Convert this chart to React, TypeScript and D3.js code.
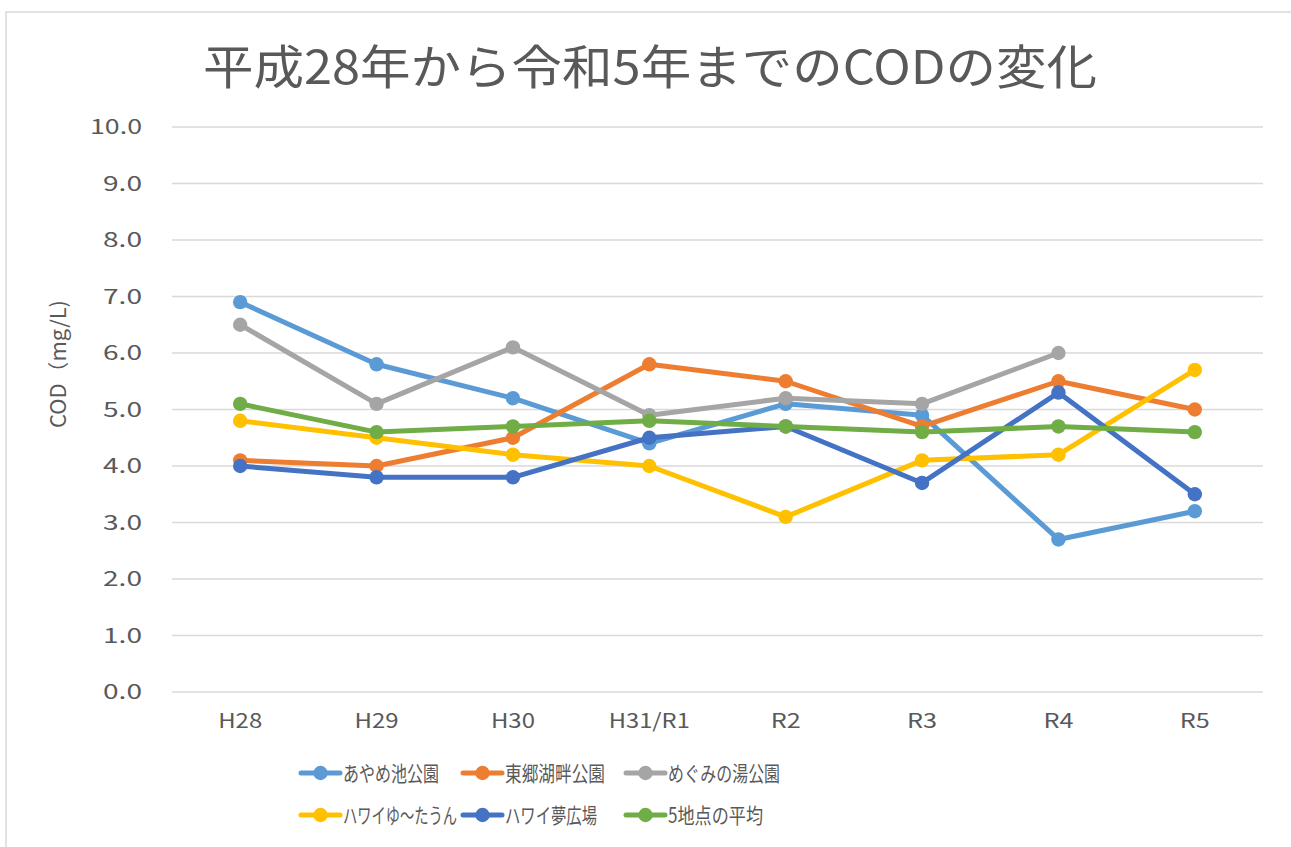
import React, { useEffect, useRef } from 'react';
import * as d3 from 'd3';

// categories (fiscal years)
const years = ['H28', 'H29', 'H30', 'H31/R1', 'R2', 'R3', 'R4', 'R5'];
const yTicks = [0, 1, 2, 3, 4, 5, 6, 7, 8, 9, 10];

// series values (mg/L)
const ayameIke = [6.9, 5.8, 5.2, 4.4, 5.1, 4.9, 2.7, 3.2];
const togoKohan = [4.1, 4.0, 4.5, 5.8, 5.5, 4.7, 5.5, 5.0];
const megumiNoYu = [6.5, 5.1, 6.1, 4.9, 5.2, 5.1, 6.0, null];
const hawaiYuTown = [4.8, 4.5, 4.2, 4.0, 3.1, 4.1, 4.2, 5.7];
const hawaiYumeHiroba = [4.0, 3.8, 3.8, 4.5, 4.7, 3.7, 5.3, 3.5];
const average5 = [5.1, 4.6, 4.7, 4.8, 4.7, 4.6, 4.7, 4.6];

const seriesNames = ['あやめ池公園', '東郷湖畔公園', 'めぐみの湯公園', 'ハワイゆ～たうん', 'ハワイ夢広場', '5地点の平均'];
const seriesColors = ['#5B9BD5', '#ED7D31', '#A5A5A5', '#FFC000', '#4472C4', '#70AD47'];

const W = 1291;
const H = 847;
const FONT = '"Noto Sans CJK JP", "Noto Sans", sans-serif';
const TEXT = '#595959';

// widths the original (narrow, wide-digit) font gives each label
const yTickWidth = (s: string) => (s.length > 3 ? 52 : 39);
const xTickWidth = (s: string) => (s.length > 3 ? 81 : s[0] === 'R' ? 30 : 44);
const legendWidths = [96, 100, 112, 114, 92, 95];

const App = () => {
  const svgRef = useRef<SVGSVGElement>(null);

  useEffect(() => {
    const svg = d3.select(svgRef.current);
    svg.selectAll('*').remove();

    const allValues = [ayameIke, togoKohan, megumiNoYu, hawaiYuTown, hawaiYumeHiroba, average5];
    const series = seriesNames.map((name, i) => ({ name, color: seriesColors[i], values: allValues[i], w: legendWidths[i] }));

    // chart frame
    svg.append('rect')
      .attr('x', 6).attr('y', 12)
      .attr('width', 1290).attr('height', 900)
      .attr('fill', '#fff')
      .attr('stroke', '#D9D9D9')
      .attr('stroke-width', 1.5);

    // title
    svg.append('text')
      .attr('x', 650).attr('y', 84)
      .attr('text-anchor', 'middle')
      .attr('font-family', FONT)
      .attr('font-size', 47)
      .attr('textLength', 894)
      .attr('lengthAdjust', 'spacingAndGlyphs')
      .attr('fill', TEXT)
      .text('平成28年から令和5年までのCODの変化');

    const x = d3.scalePoint<string>().domain(years).range([172, 1263]).padding(0.5);
    const y = d3.scaleLinear().domain([0, 10]).range([692, 127]);

    // gridlines
    svg.append('g')
      .selectAll('line')
      .data(yTicks)
      .enter().append('line')
      .attr('x1', 172).attr('x2', 1263)
      .attr('y1', d => y(d)).attr('y2', d => y(d))
      .attr('stroke', '#D9D9D9')
      .attr('stroke-width', 1.5);

    // y tick labels
    svg.append('g')
      .selectAll('text')
      .data(yTicks)
      .enter().append('text')
      .attr('x', 142)
      .attr('y', d => y(d))
      .attr('dy', '0.36em')
      .attr('text-anchor', 'end')
      .attr('font-family', FONT)
      .attr('font-size', 20)
      .attr('textLength', d => yTickWidth(d.toFixed(1)))
      .attr('lengthAdjust', 'spacingAndGlyphs')
      .attr('fill', TEXT)
      .text(d => d.toFixed(1));

    // x tick labels
    svg.append('g')
      .selectAll('text')
      .data(years)
      .enter().append('text')
      .attr('x', d => x(d) as number)
      .attr('y', 728)
      .attr('text-anchor', 'middle')
      .attr('font-family', FONT)
      .attr('font-size', 20)
      .attr('textLength', d => xTickWidth(d))
      .attr('lengthAdjust', 'spacingAndGlyphs')
      .attr('fill', TEXT)
      .text(d => d);

    // y axis title
    svg.append('text')
      .attr('transform', 'translate(66,364) rotate(-90)')
      .attr('text-anchor', 'middle')
      .attr('font-family', FONT)
      .attr('font-size', 21)
      .attr('textLength', 128)
      .attr('lengthAdjust', 'spacingAndGlyphs')
      .attr('fill', TEXT)
      .text('COD（mg/L)');

    const line = d3.line<number | null>()
      .defined(d => d != null)
      .x((d, i) => x(years[i]) as number)
      .y(d => y(d as number));

    series.forEach(s => {
      const g = svg.append('g');
      g.append('path')
        .datum(s.values)
        .attr('fill', 'none')
        .attr('stroke', s.color)
        .attr('stroke-width', 5)
        .attr('stroke-linejoin', 'round')
        .attr('d', line);
      g.selectAll('circle')
        .data(s.values.map((v, i) => ({ v, i })).filter(d => d.v != null))
        .enter().append('circle')
        .attr('cx', d => x(years[d.i]) as number)
        .attr('cy', d => y(d.v as number))
        .attr('r', 7.2)
        .attr('fill', s.color);
    });

    // legend
    const legendX = [301, 463, 626];
    const legendY = [773, 815];
    const legend = svg.append('g')
      .selectAll('g')
      .data(series)
      .enter().append('g')
      .attr('transform', (d, i) => `translate(${legendX[i % 3]},${legendY[Math.floor(i / 3)]})`);
    legend.append('line')
      .attr('x1', 0).attr('x2', 39)
      .attr('stroke', d => d.color)
      .attr('stroke-width', 5)
      .attr('stroke-linecap', 'round');
    legend.append('circle')
      .attr('cx', 19.5).attr('r', 7.2)
      .attr('fill', d => d.color);
    legend.append('text')
      .attr('x', 42)
      .attr('dy', '0.36em')
      .attr('font-family', FONT)
      .attr('font-size', 21)
      .attr('textLength', d => d.w)
      .attr('lengthAdjust', 'spacingAndGlyphs')
      .attr('fill', TEXT)
      .text(d => d.name);
  }, []);

  return (
    <div style={{ position: 'absolute', left: 0, top: 0 }}>
      <svg ref={svgRef} width={W} height={H} style={{ display: 'block' }} />
    </div>
  );
};

export default App;
